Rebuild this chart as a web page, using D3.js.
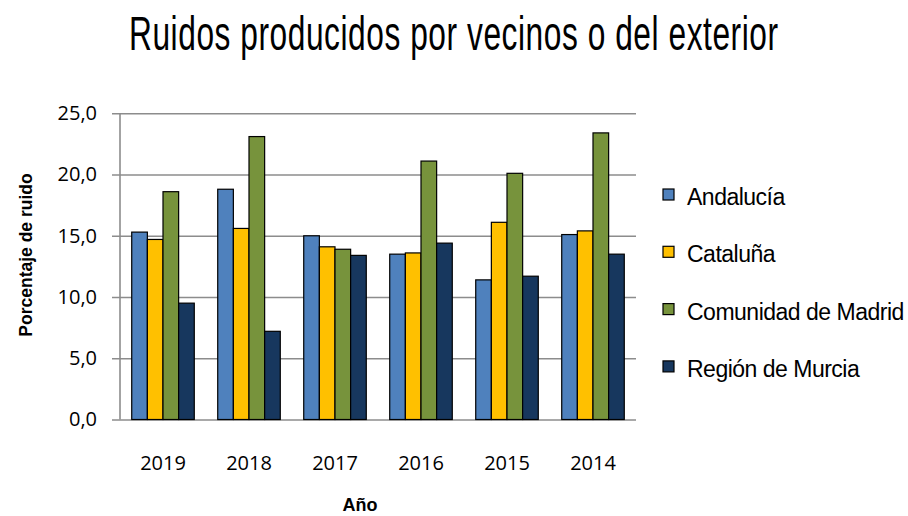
<!DOCTYPE html>
<html>
<head>
<meta charset="utf-8">
<script src="https://cdn.jsdelivr.net/npm/d3@7"></script>
<style>
  body { margin: 0; background: #fff; }
  svg { display: block; }
</style>
</head>
<body>
<script>
// Data
var years = ["2019", "2018", "2017", "2016", "2015", "2014"];
var regions = ["Andalucía", "Cataluña", "Comunidad de Madrid", "Región de Murcia"];
var andalucia = [15.3, 18.8, 15.0, 13.5, 11.4, 15.1];
var cataluna  = [14.7, 15.6, 14.1, 13.6, 16.1, 15.4];
var madrid    = [18.6, 23.1, 13.9, 21.1, 20.1, 23.4];
var murcia    = [9.5, 7.2, 13.4, 14.4, 11.7, 13.5];
var yTicks = [0, 5, 10, 15, 20, 25];

var series = [andalucia, cataluna, madrid, murcia];
var colors = ["#4F81BD", "#FFC000", "#77933C", "#17375E"];

function drawChart () {
    var width = 908, height = 516;
    var svg = d3.select("body").append("svg")
        .attr("width", width)
        .attr("height", height);

    ////////////////////////////
    // Scales
    var left = 120, right = 636, top = 113.3, bottom = 419.5;

    var x0 = d3.scaleBand()
        .domain(years)
        .range([left, right])
        .paddingInner(1.5 / 5.5)
        .paddingOuter(0.75 / 5.5);

    var x1 = d3.scaleBand()
        .domain(d3.range(regions.length))
        .range([0, x0.bandwidth()]);

    var y = d3.scaleLinear()
        .domain([0, 25])
        .range([bottom, top]);

    var comma = d3.formatLocale({decimal: ",", thousands: ".", grouping: [3], currency: ["", "€"]});

    ////////////////////////////
    // Gridlines + y axis
    var yAxis = d3.axisLeft(y)
        .tickValues(yTicks)
        .tickSize(-(right - left))
        .tickPadding(23)
        .tickFormat(comma.format(".1f"));

    var gy = svg.append("g")
        .attr("transform", "translate(" + left + ",0)")
        .call(yAxis);
    gy.select(".domain").remove();
    gy.selectAll(".tick line")
        .attr("x1", -8)
        .attr("stroke", "#8c8c8c")
        .attr("stroke-width", 1.6);
    gy.selectAll(".tick text")
        .attr("font-family", "'Open Sans', sans-serif")
        .attr("font-size", "20px")
        .attr("fill", "#000");

    svg.append("line")
        .attr("x1", left).attr("x2", left)
        .attr("y1", y(25)).attr("y2", y(0))
        .attr("stroke", "#8c8c8c")
        .attr("stroke-width", 1.6);

    ////////////////////////////
    // Bars
    var groups = svg.selectAll(".year")
        .data(years)
        .enter()
        .append("g")
        .attr("class", "year")
        .attr("transform", function(d) { return "translate(" + x0(d) + ",0)"; });

    groups.selectAll("rect")
        .data(function(d, i) { return series.map(function(s, k) { return {k: k, v: s[i]}; }); })
        .enter()
        .append("rect")
        .attr("x",      function(d) { return x1(d.k); })
        .attr("y",      function(d) { return y(d.v); })
        .attr("width",  x1.bandwidth())
        .attr("height", function(d) { return y(0) - y(d.v); })
        .attr("fill",   function(d) { return colors[d.k]; })
        .attr("stroke", "#000")
        .attr("stroke-width", 1.2);

    ////////////////////////////
    // X axis labels
    var xAxis = d3.axisBottom(x0).tickSize(0).tickPadding(36);
    var gx = svg.append("g")
        .attr("transform", "translate(0," + bottom + ")")
        .call(xAxis);
    gx.select(".domain").remove();
    gx.selectAll(".tick text")
        .attr("font-family", "'Open Sans', sans-serif")
        .attr("font-size", "20px")
        .attr("fill", "#000");

    ////////////////////////////
    // Titles
    // squeeze the glyphs horizontally, then spread the letters, for the tall condensed title face
    var squeeze = 0.66;
    svg.append("text")
        .attr("transform", "translate(129,50) scale(" + squeeze + ",1)")
        .attr("textLength", 649 / squeeze)
        .attr("lengthAdjust", "spacing")
        .attr("font-family", "'Liberation Sans', sans-serif")
        .attr("font-size", "48px")
        .attr("fill", "#000")
        .text("Ruidos producidos  por vecinos  o del exterior");

    svg.append("text")
        .attr("transform", "translate(32,255) rotate(-90)")
        .attr("text-anchor", "middle")
        .attr("font-family", "'Liberation Sans', sans-serif")
        .attr("font-weight", "bold")
        .attr("font-size", "17.5px")
        .text("Porcentaje de ruido");

    svg.append("text")
        .attr("x", 360)
        .attr("y", 511)
        .attr("text-anchor", "middle")
        .attr("font-family", "'Liberation Sans', sans-serif")
        .attr("font-weight", "bold")
        .attr("font-size", "18px")
        .text("Año");

    ////////////////////////////
    // Legend
    var legend = svg.selectAll(".legend")
        .data(regions)
        .enter()
        .append("g")
        .attr("class", "legend")
        .attr("transform", function(d, i) { return "translate(663," + (205 + i * 57.3) + ")"; });

    legend.append("rect")
        .attr("x", 0)
        .attr("y", -16)
        .attr("width", 11)
        .attr("height", 11)
        .attr("fill", function(d, i) { return colors[i]; })
        .attr("stroke", "#000")
        .attr("stroke-width", 1.2);

    legend.append("text")
        .attr("x", 24)
        .attr("y", 0)
        .attr("font-family", "'Liberation Sans', sans-serif")
        .attr("font-size", "23px")
        .attr("letter-spacing", "-0.5px")
        .text(function(d) { return d; });
}

drawChart();
</script>
</body>
</html>
